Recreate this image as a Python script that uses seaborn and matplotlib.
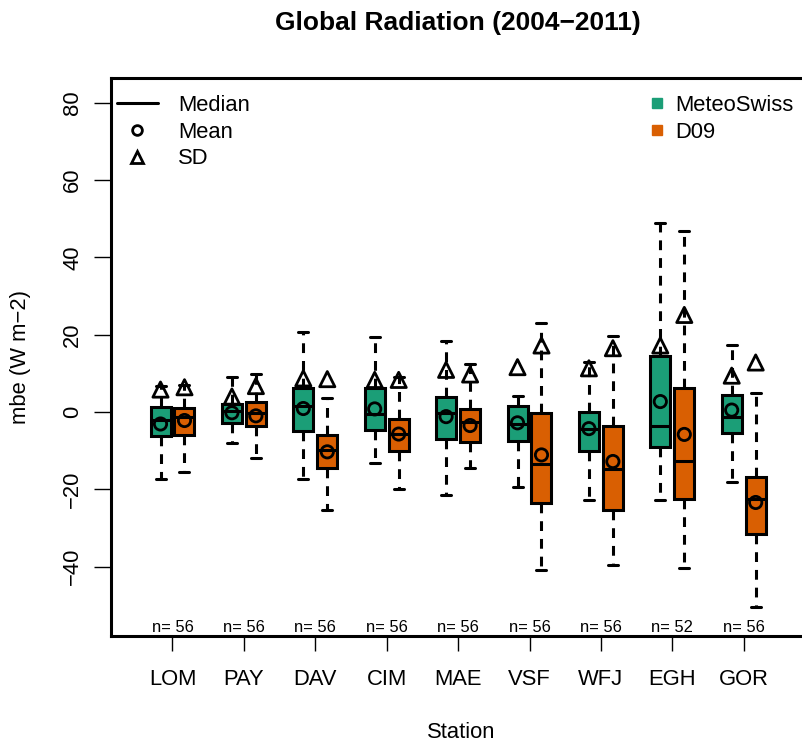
import numpy as np
import matplotlib
matplotlib.use("Agg")
import matplotlib.pyplot as plt
from matplotlib.lines import Line2D
import seaborn as sns

# --- data: mean bias error of global radiation per station (W m-2) ---
stations = ["LOM", "PAY", "DAV", "CIM", "MAE", "VSF", "WFJ", "EGH", "GOR"]
n_obs = [56, 56, 56, 56, 56, 56, 56, 52, 56]

ms_whishi = [6.7, 9.1, 20.8, 19.5, 18.4, 4.1, 13.0, 48.8, 17.2]
ms_q3 = [1.4, 2.1, 6.1, 6.1, 3.8, 1.6, -0.1, 14.6, 4.4]
ms_med = [-2.1, 0.3, 1.6, -0.6, -0.2, -3.1, -4.3, -3.5, -1.4]
ms_q1 = [-6.2, -2.8, -4.8, -4.7, -7.1, -7.4, -10.1, -9.1, -5.5]
ms_whislo = [-17.2, -8.1, -17.3, -13.1, -21.5, -19.5, -22.8, -22.8, -18.0]
ms_mean = [-3.1, -0.2, 0.9, 0.8, -1.2, -2.8, -4.3, 2.7, 0.5]
ms_sd = [5.8, 4.0, 8.7, 8.3, 10.9, 11.6, 11.3, 17.2, 9.4]

d09_whishi = [6.9, 9.7, 3.5, 9.1, 12.3, 22.9, 19.7, 46.8, 5.0]
d09_q3 = [1.1, 2.7, -5.9, -1.9, 0.7, -0.2, -3.6, 6.3, -16.9]
d09_med = [-1.4, -0.3, -9.9, -5.7, -2.7, -13.4, -14.8, -12.8, -22.6]
d09_q1 = [-5.9, -3.5, -14.6, -10.0, -7.7, -23.6, -25.3, -22.6, -31.6]
d09_whislo = [-15.4, -11.8, -25.3, -20.0, -14.4, -40.9, -39.6, -40.3, -50.5]
d09_mean = [-2.2, -1.0, -10.3, -5.7, -3.5, -11.1, -12.8, -5.8, -23.4]
d09_sd = [6.4, 6.7, 8.5, 8.3, 9.7, 17.2, 16.5, 25.1, 12.8]

sources = ["MeteoSwiss", "D09"]
colors = ["#1B9E77", "#D95F02"]

sns.set_theme(style="white")
plt.rcParams["font.family"] = ["Liberation Sans", "DejaVu Sans"]
plt.rcParams["axes.unicode_minus"] = True
for key in ["text.color", "axes.labelcolor", "xtick.color", "ytick.color", "axes.edgecolor"]:
    plt.rcParams[key] = "black"

BASE = 15.8
LW = 2.2

fig = plt.figure(figsize=(8.03, 7.45), dpi=100)
L, R, T, B = 111, 812, 78, 636
ax = fig.add_axes([L / 803, 1 - B / 745, (R - L) / 803, (B - T) / 745])

centers = np.arange(1, len(stations) + 1)
offset = 0.168
width = 0.28

groups = [
    (ms_whishi, ms_q3, ms_med, ms_q1, ms_whislo, ms_mean, ms_sd),
    (d09_whishi, d09_q3, d09_med, d09_q1, d09_whislo, d09_mean, d09_sd),
]

for k, (whi, q3, med, q1, wlo, mean, sd) in enumerate(groups):
    pos = centers + (-offset if k == 0 else offset)
    stats = [
        dict(med=med[i], q1=q1[i], q3=q3[i], whislo=wlo[i], whishi=whi[i], fliers=[])
        for i in range(len(stations))
    ]
    ax.bxp(
        stats, positions=pos, widths=width, patch_artist=True, showfliers=False,
        manage_ticks=False, capwidths=width / 2,
        boxprops=dict(facecolor=colors[k], edgecolor="black", linewidth=LW),
        whiskerprops=dict(color="black", linewidth=LW, linestyle=(0, (3.2, 2.6))),
        capprops=dict(color="black", linewidth=LW),
        medianprops=dict(color="black", linewidth=LW, solid_capstyle="butt"),
        zorder=2,
    )
    sns.scatterplot(x=pos, y=mean, marker="o", s=78, facecolor="none",
                    edgecolor="black", linewidth=2.0, ax=ax, zorder=5, legend=False)
    sns.scatterplot(x=pos, y=sd, marker="^", s=120, facecolor="none",
                    edgecolor="black", linewidth=2.0, ax=ax, zorder=5, legend=False)

# sample size under each station
trans = ax.get_xaxis_transform()
for c, n in zip(centers, n_obs):
    ax.text(c, 0.0145, f"n= {n}", transform=trans, ha="center", va="center",
            fontsize=11.9, color="black")

ax.set_xlim(1 - (172.5 - L) / 71.4, 9 + (R - 743.7) / 71.4)
ax.set_ylim(-(B - 412) / 3.867, (412 - T) / 3.867)

ax.set_xticks(centers)
ax.set_xticklabels(stations, fontsize=BASE)
ax.set_yticks(np.arange(-40, 81, 20))
ax.set_yticklabels([f"{v}".replace("-", "\u2212") for v in range(-40, 81, 20)],
                   fontsize=BASE, rotation=90, va="center")
ax.tick_params(axis="x", length=11, width=1.0, color="black", direction="out",
               pad=13, bottom=True)
ax.tick_params(axis="y", length=12, width=1.0, color="black", direction="out",
               pad=8, left=True)

for s in ax.spines.values():
    s.set_linewidth(LW)
    s.set_color("black")
# the plot frame runs past the right edge of the figure
ax.spines["right"].set_visible(False)

ax.set_xlabel("Station", fontsize=BASE)
ax.xaxis.set_label_coords(0.5, (B - 732) / (B - T), transform=ax.transAxes)
ax.xaxis.label.set_va("center")
ax.set_ylabel("mbe (W m\u22122)", fontsize=BASE)
ax.yaxis.set_label_coords((21 - L) / (R - L), 0.5)
ax.yaxis.label.set_va("center")

fig.text(457.5 / 803, 1 - 23 / 745, "Global Radiation (2004\u22122011)",
         ha="center", va="center", fontsize=19, fontweight="bold")

# legends
top_anchor = (B - 95) / (B - T)
stat_handles = [
    Line2D([], [], color="black", lw=LW),
    Line2D([], [], ls="none", marker="o", mfc="none", mec="black", mew=2.0, ms=7),
    Line2D([], [], ls="none", marker="^", mfc="none", mec="black", mew=2.0, ms=9),
]
leg1 = ax.legend(stat_handles, ["Median", "Mean", "SD"], loc="upper left",
                 bbox_to_anchor=((117 - L) / (R - L), top_anchor),
                 frameon=False, fontsize=BASE, handlelength=1.86,
                 handletextpad=0.91, borderpad=0, borderaxespad=0, labelspacing=0.26)
ax.add_artist(leg1)

src_handles = [Line2D([], [], ls="none", marker="s", ms=7, mfc=c, mec=c) for c in colors]
ax.legend(src_handles, sources, loc="upper left",
          bbox_to_anchor=((648 - L) / (R - L), top_anchor),
          frameon=False, fontsize=BASE, handlelength=0.8, handletextpad=0.46,
          borderpad=0, borderaxespad=0, labelspacing=0.26)

fig.savefig("out.png", dpi=100)
